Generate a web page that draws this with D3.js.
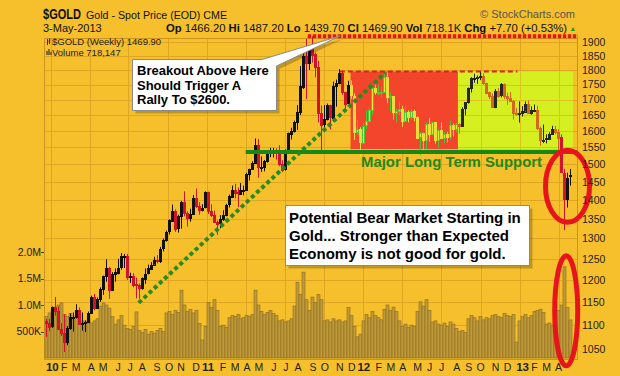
<!DOCTYPE html>
<html>
<head>
<meta charset="utf-8">
<script src="https://cdn.jsdelivr.net/npm/d3@7/dist/d3.min.js"></script>
<style>
    body { margin: 0; background: #f6bf2c; }
    svg { display: block; font-family: "Liberation Sans", Arial, sans-serif; }
</style>
</head>
<body>
<div id="chart"></div>
<script>
/* global d3 */

// weekly bars, one per Monday, 21-Dec-2009 .. 29-Apr-2013
var weeks = d3.timeMonday.range(new Date(2009, 11, 21), new Date(2013, 3, 30));

var opens = [
    1109,
    1104, 1096, 1138, 1130, 1092, 1083, 1064, 1093, 1117, 1118, 1133, 1102, 1105, 1106, 1125, 1161, 1136, 1157, 1180, 1209, 1228, 1177, 1214, 1218, 1229, 1256, 1256, 1207, 1210, 1190, 1188, 1181, 1204, 1215, 1227, 1236, 1248, 1245, 1275, 1296, 1317, 1346, 1372, 1326, 1357, 1394, 1366, 1352, 1363, 1407, 1385, 1374, 1380,
    1421, 1370, 1360, 1343, 1339, 1350, 1361, 1388, 1410, 1429, 1421, 1418, 1428, 1429, 1473, 1486, 1504, 1556, 1492, 1493, 1510, 1536, 1542, 1542, 1538, 1501, 1485, 1541, 1593, 1601, 1628, 1659, 1744, 1851, 1827, 1876, 1856, 1811, 1658, 1620, 1636, 1682, 1642, 1746, 1755, 1788, 1724, 1686, 1747, 1713, 1598, 1606,
    1566, 1617, 1631, 1665, 1737, 1725, 1725, 1725, 1776, 1710, 1711, 1658, 1663, 1669, 1630, 1659, 1643, 1663, 1644, 1580, 1593, 1573, 1622, 1591, 1628, 1572, 1604, 1579, 1592, 1584, 1620, 1606, 1621, 1616, 1671, 1691, 1738, 1772, 1772, 1776, 1780, 1756, 1724, 1711, 1676, 1730, 1714, 1751, 1712, 1705, 1696, 1658,
    1656, 1656, 1662, 1687, 1658, 1667, 1667, 1609, 1572, 1573, 1577, 1592, 1607, 1597, 1580, 1476, 1405, 1466
];

var highs = [
    1113,
    1113, 1140, 1161, 1140, 1104, 1123, 1098, 1125, 1127, 1145, 1138, 1127, 1110, 1129, 1164, 1168, 1160, 1183, 1210, 1249, 1230, 1218, 1227, 1250, 1264, 1262, 1262, 1217, 1216, 1205, 1192, 1206, 1227, 1236, 1242, 1255, 1259, 1279, 1300, 1320, 1349, 1388, 1375, 1361, 1398, 1424, 1370, 1377, 1414, 1432, 1395, 1389, 1424,
    1423, 1389, 1372, 1346, 1360, 1373, 1390, 1415, 1440, 1445, 1435, 1447, 1440, 1476, 1488, 1509, 1577, 1575, 1523, 1513, 1537, 1549, 1549, 1547, 1557, 1512, 1544, 1595, 1610, 1632, 1682, 1814, 1881, 1912, 1885, 1921, 1862, 1832, 1681, 1682, 1687, 1683, 1760, 1767, 1803, 1796, 1726, 1763, 1764, 1720, 1634, 1612,
    1626, 1664, 1673, 1740, 1764, 1749, 1743, 1787, 1792, 1723, 1712, 1670, 1694, 1680, 1679, 1665, 1669, 1668, 1646, 1597, 1595, 1627, 1641, 1628, 1628, 1605, 1627, 1597, 1598, 1632, 1624, 1625, 1624, 1675, 1692, 1740, 1775, 1787, 1781, 1796, 1789, 1756, 1726, 1720, 1735, 1738, 1755, 1754, 1723, 1725, 1699, 1673,
    1694, 1679, 1694, 1697, 1678, 1684, 1680, 1614, 1620, 1590, 1596, 1616, 1616, 1606, 1590, 1487, 1476, 1487
];

var lows = [
    1075,
    1087, 1094, 1120, 1092, 1077, 1044, 1058, 1090, 1086, 1114, 1100, 1088, 1085, 1104, 1124, 1132, 1135, 1150, 1166, 1196, 1157, 1176, 1196, 1213, 1224, 1228, 1200, 1193, 1183, 1158, 1157, 1178, 1191, 1213, 1225, 1236, 1239, 1240, 1268, 1292, 1310, 1343, 1317, 1315, 1325, 1357, 1330, 1343, 1361, 1379, 1361, 1370, 1378,
    1363, 1355, 1342, 1309, 1326, 1345, 1357, 1380, 1408, 1405, 1381, 1414, 1413, 1425, 1454, 1484, 1502, 1462, 1478, 1480, 1505, 1521, 1520, 1514, 1495, 1478, 1482, 1533, 1574, 1595, 1603, 1650, 1735, 1702, 1800, 1826, 1775, 1627, 1532, 1597, 1633, 1605, 1630, 1677, 1751, 1716, 1671, 1685, 1702, 1572, 1587, 1523,
    1563, 1606, 1627, 1652, 1716, 1714, 1707, 1723, 1688, 1662, 1636, 1627, 1649, 1613, 1627, 1627, 1635, 1630, 1577, 1527, 1535, 1545, 1567, 1586, 1560, 1548, 1577, 1563, 1565, 1572, 1583, 1597, 1592, 1614, 1649, 1687, 1723, 1756, 1752, 1765, 1749, 1718, 1702, 1673, 1672, 1706, 1707, 1702, 1683, 1693, 1636, 1648,
    1626, 1645, 1661, 1655, 1651, 1660, 1603, 1555, 1563, 1562, 1574, 1590, 1590, 1540, 1476, 1321, 1380, 1440
];

var closes = [
    1104,
    1096, 1138, 1130, 1092, 1083, 1064, 1093, 1117, 1118, 1133, 1102, 1105, 1106, 1125, 1161, 1136, 1157, 1180, 1209, 1228, 1177, 1214, 1218, 1229, 1256, 1256, 1207, 1210, 1190, 1188, 1181, 1204, 1215, 1227, 1236, 1248, 1245, 1275, 1296, 1317, 1346, 1372, 1326, 1357, 1394, 1366, 1352, 1363, 1407, 1385, 1374, 1380, 1421,
    1370, 1360, 1343, 1339, 1350, 1361, 1388, 1410, 1429, 1421, 1418, 1428, 1429, 1473, 1486, 1504, 1556, 1492, 1493, 1510, 1536, 1542, 1542, 1538, 1501, 1485, 1541, 1593, 1601, 1628, 1659, 1744, 1851, 1827, 1876, 1856, 1811, 1658, 1620, 1636, 1682, 1642, 1746, 1755, 1788, 1724, 1686, 1747, 1713, 1598, 1606, 1566,
    1617, 1631, 1665, 1737, 1725, 1725, 1725, 1776, 1710, 1711, 1658, 1663, 1669, 1630, 1659, 1643, 1663, 1644, 1580, 1593, 1573, 1622, 1591, 1628, 1572, 1604, 1579, 1592, 1584, 1620, 1606, 1621, 1616, 1671, 1691, 1738, 1772, 1772, 1776, 1780, 1756, 1724, 1711, 1676, 1730, 1714, 1751, 1712, 1705, 1696, 1658, 1656,
    1656, 1662, 1687, 1658, 1667, 1667, 1609, 1572, 1573, 1577, 1592, 1607, 1597, 1580, 1476, 1405, 1462, 1470
];

// weekly volume, thousands
var volumes = [
    780,
    850, 900, 960, 1000, 1040, 820, 780, 840, 760, 800, 820, 700, 680, 720, 660, 700, 740, 980, 1040, 1000, 940, 780, 640, 720, 800, 620, 560, 540, 600, 870, 520, 480, 540, 450, 500, 470, 520, 560, 500, 850, 880, 820, 900, 860, 1280, 1000, 880, 920, 850, 900, 650, 340, 600,
    1050, 950, 1100, 900, 600, 620, 580, 760, 800, 780, 820, 740, 760, 800, 780, 820, 1280, 1000, 880, 820, 860, 900, 840, 800, 700, 720, 680, 700, 740, 980, 1430, 1200, 1620, 1100, 900, 1150, 1050, 1200, 1100, 700, 720, 680, 740, 700, 720, 680, 700, 950, 800, 600, 400, 450,
    700, 820, 760, 880, 800, 760, 720, 920, 1000, 900, 960, 880, 700, 600, 640, 580, 620, 600, 880, 1060, 980, 1100, 900, 680, 700, 640, 620, 660, 600, 680, 640, 560, 500, 520, 480, 740, 800, 760, 700, 780, 720, 760, 740, 800, 820, 780, 760, 840, 800, 780, 820, 300,
    700, 780, 820, 760, 800, 880, 900, 920, 860, 640, 660, 620, 680, 900, 1000, 1720, 950, 718
];

var priceTicks = [1050, 1100, 1150, 1200, 1250, 1300, 1350, 1400, 1450, 1500, 1550, 1600, 1650, 1700, 1750, 1800, 1850, 1900];
var volumeTicks = [500, 1000, 1500, 2000];
var volumeTickLabels = ["500K", "1.0M", "1.5M", "2.0M"];
var monthLetters = ["J", "F", "M", "A", "M", "J", "J", "A", "S", "O", "N", "D"];

var headerQuote = [
    ["Op", " 1466.20 "], ["Hi", " 1487.20 "], ["Lo", " 1439.70 "],
    ["Cl", " 1469.90 "], ["Vol", " 718.1K "], ["Chg", " +7.70 (+0.53%)"]
];

var bgColor = "#f6bf2c",
    gridColor = "#dfa623",
    frame = {left: 44, right: 577, top: 38, bottom: 359},
    svg, x, y, yVol, bars, redZone, limeZone;

bars = weeks.map(function (d, i) {
    return {
        date: d,
        open: opens[i],
        high: highs[i],
        low: lows[i],
        close: closes[i],
        volume: volumes[i],
        prev: i > 0 ? closes[i - 1] : opens[i]
    };
});

x = d3.scaleTime()
    .domain([new Date(2010, 0, 1), new Date(2013, 0, 1)])
    .range([51, 520]);

y = d3.scaleLog()
    .domain([1100, 1900])
    .range([325, 42]);

yVol = d3.scaleLinear()
    .domain([0, 2000])
    .range([358, 252]);

// annotation zones (dates / prices the analyst marked)
redZone = {from: new Date(2011, 11, 2), to: new Date(2012, 7, 9), top: 1795, bottom: 1545};
limeZone = {from: new Date(2012, 7, 9), to: new Date(2013, 4, 5), top: 1795, bottom: 1545};

svg = d3.select("#chart")
    .append("svg")
    .attr("width", 620)
    .attr("height", 376);

svg.append("rect")
    .attr("width", 620)
    .attr("height", 376)
    .attr("fill", bgColor);

function drawGrid(g) {
    g.selectAll(".hgrid")
        .data(priceTicks)
        .enter()
        .append("line")
        .attr("x1", frame.left)
        .attr("x2", frame.right)
        .attr("y1", function (d) { return Math.round(y(d)) + 0.5; })
        .attr("y2", function (d) { return Math.round(y(d)) + 0.5; })
        .attr("stroke", gridColor);

    g.selectAll(".vgrid")
        .data(d3.timeMonth.every(3).range(new Date(2010, 0, 1), new Date(2013, 4, 1)))
        .enter()
        .append("line")
        .attr("x1", function (d) { return Math.round(x(d)) + 0.5; })
        .attr("x2", function (d) { return Math.round(x(d)) + 0.5; })
        .attr("y1", frame.top)
        .attr("y2", frame.bottom)
        .attr("stroke", gridColor);
}

drawGrid(svg.append("g"));

// highlighted boxes
function zoneRect(z, color) {
    svg.append("rect")
        .attr("x", x(z.from))
        .attr("y", y(z.top))
        .attr("width", x(z.to) - x(z.from))
        .attr("height", y(z.bottom) - y(z.top))
        .attr("fill", color);
}

zoneRect(redZone, "#f2452c");
zoneRect(limeZone, "#d6ef22");

svg.append("clipPath")
    .attr("id", "limeclip")
    .append("rect")
    .attr("x", x(limeZone.from))
    .attr("y", y(limeZone.top))
    .attr("width", x(limeZone.to) - x(limeZone.from))
    .attr("height", y(limeZone.bottom) - y(limeZone.top));

drawGrid(svg.append("g").attr("clip-path", "url(#limeclip)").attr("opacity", 0.6));

// frame
svg.append("rect")
    .attr("x", frame.left + 0.5)
    .attr("y", frame.top + 0.5)
    .attr("width", frame.right - frame.left)
    .attr("height", frame.bottom - frame.top)
    .attr("fill", "none")
    .attr("stroke", "#c9951c");

// volume
svg.append("g")
    .selectAll("rect")
    .data(bars)
    .enter()
    .append("rect")
    .attr("x", function (d) { return Math.floor(x(d.date)) - 1; })
    .attr("y", function (d) { return yVol(d.volume); })
    .attr("width", 3)
    .attr("height", function (d) { return yVol(0) - yVol(d.volume); })
    .attr("fill", "#bf9a3a")
    .attr("stroke", "#8c6b1f")
    .attr("stroke-width", 0.6);

function candleStyle(d) {
    var up = d.close >= d.prev;

    if (d.date >= redZone.from && d.date < redZone.to) {
        return up ? {stroke: "#4cc832", fill: "#d8ec3c"} : {stroke: "#eedb3c", fill: "#eedb3c"};
    }
    if (d.date >= limeZone.from && d.date < new Date(2013, 3, 6)) {
        return up ? {stroke: "#262626", fill: "none"} : {stroke: "#d4661e", fill: "#d4661e"};
    }
    return up ? {stroke: "#111", fill: "none"} : {stroke: "#d2142a", fill: "#d2142a"};
}

function cx(d) {
    return Math.floor(x(d.date)) + 0.5;
}

var candle = svg.append("g")
    .selectAll("g")
    .data(bars)
    .enter()
    .append("g");

candle.append("line")
    .attr("x1", cx)
    .attr("x2", cx)
    .attr("y1", function (d) { return y(d.high); })
    .attr("y2", function (d) { return y(d.low); })
    .attr("stroke", function (d) { return candleStyle(d).stroke; });

candle.append("rect")
    .attr("x", function (d) { return cx(d) - 1; })
    .attr("y", function (d) { return Math.round(y(Math.max(d.open, d.close))) + 0.5; })
    .attr("width", 2)
    .attr("height", function (d) {
        return Math.max(1, Math.round(y(Math.min(d.open, d.close)) - y(Math.max(d.open, d.close))));
    })
    .attr("fill", function (d) {
        var s = candleStyle(d);
        return d.close < d.open ? s.stroke : s.fill;
    })
    .attr("stroke", function (d) { return candleStyle(d).stroke; });

// ---- annotations ----
// all-time high line
svg.append("line")
    .attr("x1", x(new Date(2011, 7, 24)))
    .attr("x2", frame.right + 1)
    .attr("y1", y(1921))
    .attr("y2", y(1921))
    .attr("stroke", "#e8141c")
    .attr("stroke-width", 4)
    .attr("stroke-dasharray", "3.5,1.5");

// range top
svg.append("line")
    .attr("x1", x(new Date(2011, 10, 7)))
    .attr("x2", x(new Date(2012, 11, 26)))
    .attr("y1", y(1795))
    .attr("y2", y(1795))
    .attr("stroke", "#d4261a")
    .attr("stroke-width", 2)
    .attr("stroke-dasharray", "5,3");

// support
svg.append("line")
    .attr("x1", x(new Date(2011, 3, 1)))
    .attr("x2", frame.right)
    .attr("y1", y(1536))
    .attr("y2", y(1536))
    .attr("stroke", "#148a14")
    .attr("stroke-width", 4);

// trend line
svg.append("line")
    .attr("x1", x(new Date(2010, 6, 25)))
    .attr("y1", y(1148))
    .attr("x2", x(new Date(2012, 1, 21)))
    .attr("y2", y(1790))
    .attr("stroke", "#2a8a1e")
    .attr("stroke-width", 4)
    .attr("stroke-dasharray", "4,3");

svg.append("text")
    .attr("x", 361)
    .attr("y", 167)
    .attr("font-size", 15)
    .attr("font-weight", "bold")
    .attr("fill", "#1d8a1d")
    .attr("textLength", 181)
    .attr("lengthAdjust", "spacingAndGlyphs")
    .text("Major Long Term Support");

function callout(path, left, top, lines, size, lineGap) {
    var g = svg.append("g");

    g.append("path")
        .attr("d", path)
        .attr("transform", "translate(3,3)")
        .attr("fill", "#000")
        .attr("opacity", 0.22);

    g.append("path")
        .attr("d", path)
        .attr("fill", "#fff")
        .attr("stroke", "#8a8a8a");

    g.selectAll("text")
        .data(lines)
        .enter()
        .append("text")
        .attr("x", left)
        .attr("y", function (d, i) { return top + i * lineGap; })
        .attr("font-size", size)
        .attr("font-weight", "bold")
        .attr("fill", "#000")
        .text(function (d) { return d; });
}

callout("M132.5,59.5 H262 L340,36 L276.5,66 V110.5 H132.5 Z", 137, 75,
    ["Breakout Above Here", "Should Trigger A", "Rally To $2600."], 13, 14.5);

callout("M285.5,205.5 H529.5 V265.5 H285.5 Z", 289, 223,
    ["Potential Bear Market Starting in", "Gold... Stronger than Expected", "Economy is not good for gold."], 15, 18);

// red rings
svg.append("ellipse")
    .attr("cx", x(new Date(2013, 3, 22)))
    .attr("cy", y(1438))
    .attr("rx", 22)
    .attr("ry", 36)
    .attr("fill", "none")
    .attr("stroke", "#e8141c")
    .attr("stroke-width", 5);

svg.append("ellipse")
    .attr("cx", x(new Date(2013, 3, 19)))
    .attr("cy", yVol(890))
    .attr("rx", 11.5)
    .attr("ry", 55)
    .attr("fill", "none")
    .attr("stroke", "#e8141c")
    .attr("stroke-width", 5);

// ---- axes ----
svg.append("g")
    .selectAll("text")
    .data(priceTicks)
    .enter()
    .append("text")
    .attr("x", 582)
    .attr("y", function (d) { return y(d); })
    .attr("dy", "0.36em")
    .attr("font-size", 10.5)
    .attr("fill", "#222")
    .text(function (d) { return d; });

var volAxis = svg.append("g")
    .selectAll("g")
    .data(volumeTicks)
    .enter()
    .append("g");

volAxis.append("line")
    .attr("x1", 41)
    .attr("x2", frame.left)
    .attr("y1", function (d) { return Math.round(yVol(d)) + 0.5; })
    .attr("y2", function (d) { return Math.round(yVol(d)) + 0.5; })
    .attr("stroke", "#444");

volAxis.append("text")
    .attr("x", 41)
    .attr("y", function (d) { return yVol(d); })
    .attr("dy", "0.36em")
    .attr("text-anchor", "end")
    .attr("font-size", 10.5)
    .attr("fill", "#222")
    .text(function (d, i) { return volumeTickLabels[i]; });

svg.append("g")
    .selectAll("text")
    .data(d3.timeMonth.range(new Date(2010, 0, 1), new Date(2013, 4, 1)))
    .enter()
    .append("text")
    .attr("x", function (d) { return x(d3.timeMonday.ceil(d)); })
    .attr("y", 371)
    .attr("text-anchor", "middle")
    .attr("font-size", function (d) { return d.getMonth() === 0 ? 11.5 : 10.5; })
    .attr("font-weight", function (d) { return d.getMonth() === 0 ? "bold" : "normal"; })
    .attr("fill", "#222")
    .text(function (d) {
        return d.getMonth() === 0 ? String(d.getFullYear()).slice(2) : monthLetters[d.getMonth()];
    });

// ---- header ----
svg.append("text")
    .attr("x", 43)
    .attr("y", 19)
    .attr("font-size", 14)
    .attr("font-weight", "bold")
    .attr("fill", "#111")
    .attr("textLength", 38)
    .attr("lengthAdjust", "spacingAndGlyphs")
    .text("$GOLD");

svg.append("text")
    .attr("x", 86)
    .attr("y", 18.5)
    .attr("font-size", 11.5)
    .attr("fill", "#111")
    .attr("textLength", 141)
    .attr("lengthAdjust", "spacingAndGlyphs")
    .text("Gold - Spot Price (EOD) CME");

svg.append("text")
    .attr("x", 575)
    .attr("y", 18)
    .attr("text-anchor", "end")
    .attr("font-size", 11)
    .attr("fill", "#555")
    .text("\u00a9 StockCharts.com");

svg.append("text")
    .attr("x", 43)
    .attr("y", 32)
    .attr("font-size", 11)
    .attr("fill", "#111")
    .text("3-May-2013");

var quote = svg.append("text")
    .attr("x", 166)
    .attr("y", 32)
    .attr("font-size", 11)
    .attr("fill", "#111")
    .attr("textLength", 401)
    .attr("lengthAdjust", "spacingAndGlyphs");

headerQuote.forEach(function (q) {
    quote.append("tspan").attr("font-weight", "bold").text(q[0]);
    quote.append("tspan").text(q[1]);
});

svg.append("path")
    .attr("d", "M571,31 L575,31 L573,27 Z")
    .attr("fill", "#1a9a1a");

// legend inside the plot
svg.append("text")
    .attr("x", 52)
    .attr("y", 45)
    .attr("font-size", 9.5)
    .attr("fill", "#222")
    .text("$GOLD (Weekly) 1469.90");

svg.append("text")
    .attr("x", 52)
    .attr("y", 55.5)
    .attr("font-size", 9.5)
    .attr("fill", "#222")
    .text("Volume 718,147");

svg.append("path")
    .attr("d", "M47.5,39 V45 M49.5,38.5 V44 M47,41 h1.5 M49,40 h1.5")
    .attr("stroke", "#333");

svg.append("path")
    .attr("d", "M47,55 V51 M49,55 V49 M51,55 V52")
    .attr("stroke", "#333")
    .attr("stroke-width", 1.2);
</script>
</body>
</html>
